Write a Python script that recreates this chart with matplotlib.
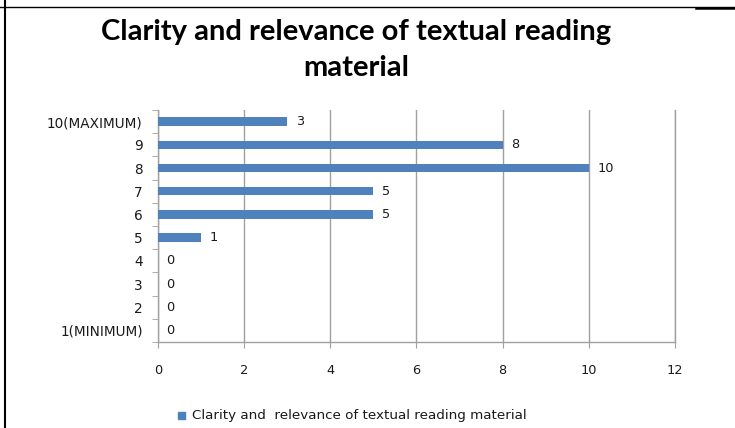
import matplotlib
matplotlib.use("Agg")
import matplotlib.pyplot as plt
from matplotlib.lines import Line2D
from matplotlib.patches import Rectangle

categories = ["1(MINIMUM)", "2", "3", "4", "5", "6", "7", "8", "9", "10(MAXIMUM)"]
values = [0, 0, 0, 0, 1, 5, 5, 10, 8, 3]
xticks = [0, 2, 4, 6, 8, 10, 12]
title = "Clarity and relevance of textual reading\nmaterial"
series_name = "Clarity and  relevance of textual reading material"

bar_color = "#4F81BD"
grid_color = "#A0A0A0"
text_color = "#1a1a1a"
font = ["DejaVu Sans"]
title_font = ["Lato", "DejaVu Sans"]

W, H = 735, 428
fig = plt.figure(figsize=(W / 100, H / 100), dpi=100)
ax = fig.add_axes([158 / W, 1 - 342 / H, (675 - 158) / W, (342 - 110) / H])

ypos = list(range(len(categories)))
ax.barh(ypos, values, height=0.36, color=bar_color, zorder=3)
for y, v in zip(ypos, values):
    ax.text(v + 0.2, y, str(v), va="center", ha="left", fontsize=9.3,
            color=text_color, family=font)

ax.set_xlim(0, 12)
ax.set_ylim(-0.5, len(categories) - 0.5)
ax.set_xticks(xticks)
ax.set_xticklabels([str(t) for t in xticks], fontsize=9.3, color=text_color, family=font)
ax.set_yticks(ypos)
ax.set_yticklabels(categories, fontsize=9.8, color=text_color, family=font)
ax.set_yticks([i - 0.5 for i in range(len(categories) + 1)], minor=True)
ax.tick_params(axis="y", which="major", length=0, pad=11)
ax.tick_params(axis="y", which="minor", length=4, color=grid_color, direction="out")
ax.tick_params(axis="x", which="major", length=4, color=grid_color, direction="out", pad=12)
ax.grid(axis="x", color=grid_color, linewidth=1, zorder=0)
ax.spines["top"].set_visible(False)
for s in ["left", "bottom", "right"]:
    ax.spines[s].set_color(grid_color)
    ax.spines[s].set_linewidth(1)

fig.text(356 / W, 1 - 50 / H, title, ha="center", va="center", fontsize=21,
         fontweight="bold", family=title_font, color="black", linespacing=1.45)

# legend
fig.patches.append(Rectangle((178 / W, 1 - 419 / H), 7 / W, 7 / H,
                             transform=fig.transFigure, color=bar_color))
fig.text(192 / W, 1 - 415 / H, series_name, ha="left", va="center", fontsize=9.7,
         color=text_color, family=font)

# page border lines
fig.add_artist(Line2D([5 / W, 5 / W], [0, 1], color="black", linewidth=1.5,
                      transform=fig.transFigure))
fig.add_artist(Line2D([0, 1], [1 - 7 / H, 1 - 7 / H], color="black", linewidth=1,
                      transform=fig.transFigure))
fig.add_artist(Line2D([696 / W, 1], [1 - 7.5 / H, 1 - 7.5 / H], color="black", linewidth=1.8,
                      transform=fig.transFigure))

fig.savefig("out.png", dpi=100)
